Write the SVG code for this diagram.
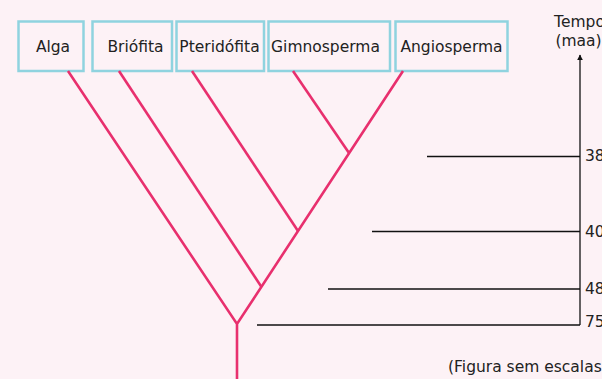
<svg xmlns="http://www.w3.org/2000/svg" width="602" height="379" viewBox="0 0 602 379">
<defs>
<style>
.box{fill:#fdf2f6;stroke:#8fd3df;stroke-width:2.5}
.lbl{font-family:"DejaVu Sans",Verdana,sans-serif;font-size:15.5px;fill:#222}
.br{stroke:#e8306e;stroke-width:2.6;fill:none;stroke-linecap:butt}
.ax{stroke:#111;stroke-width:1.3;fill:none}
</style>
<marker id="arr" viewBox="0 0 10 10" refX="9" refY="5" markerWidth="6" markerHeight="7" markerUnits="userSpaceOnUse" orient="auto">
<path d="M0,0 L10,5 L0,10 z" fill="#111"/>
</marker>
</defs>
<rect width="602" height="379" fill="#fdf2f6"/>
<g id="node-alga"><rect class="box" x="18.5" y="21.5" width="65" height="49.5"/><text class="lbl" x="53" y="52" text-anchor="middle">Alga</text></g>
<g id="node-briofita"><rect class="box" x="92.5" y="21.5" width="79.5" height="49.5"/><text class="lbl" x="135.5" y="52" text-anchor="middle">Briófita</text></g>
<g id="node-pteridofita"><rect class="box" x="176.5" y="21.5" width="87.5" height="49.5"/><text class="lbl" x="219.5" y="52" text-anchor="middle">Pteridófita</text></g>
<g id="node-gimnosperma"><rect class="box" x="268.5" y="21.5" width="121.5" height="49.5"/><text class="lbl" x="325.5" y="52" text-anchor="middle">Gimnosperma</text></g>
<g id="node-angiosperma"><rect class="box" x="395.5" y="21.5" width="112" height="49.5"/><text class="lbl" x="451.5" y="52" text-anchor="middle">Angiosperma</text></g>
<g id="connectors">
<path class="br" d="M237,379 L237,324 M68,71 L237,324 L403,71"/>
<path class="br" d="M119,71 L261.5,287"/>
<path class="br" d="M192,71 L298,231"/>
<path class="br" d="M293,71 L349,153"/>
</g>
<g id="time-axis">
<line class="ax" x1="580" y1="325" x2="580" y2="55" marker-end="url(#arr)"/>
<line class="ax" x1="427" y1="156.5" x2="580" y2="156.5"/>
<line class="ax" x1="372" y1="231.5" x2="580" y2="231.5"/>
<line class="ax" x1="328" y1="289" x2="580" y2="289"/>
<line class="ax" x1="257" y1="325" x2="580" y2="325"/>
<text class="lbl" x="579.5" y="27" text-anchor="middle">Tempo</text>
<text class="lbl" x="578.5" y="46" text-anchor="middle">(maa)</text>
<text class="lbl" x="585" y="161">38</text>
<text class="lbl" x="585" y="236.5">40</text>
<text class="lbl" x="585" y="294">48</text>
<text class="lbl" x="585" y="326.5">75</text>
<text class="lbl" x="448" y="371.5">(Figura sem escalas</text>
</g>
</svg>
